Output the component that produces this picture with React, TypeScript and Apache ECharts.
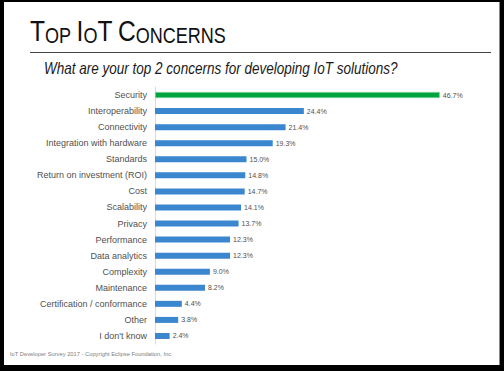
import React, { useEffect, useRef } from "react";
import * as echarts from "echarts";

const categories = [
  "Security",
  "Interoperability",
  "Connectivity",
  "Integration with hardware",
  "Standards",
  "Return on investment (ROI)",
  "Cost",
  "Scalability",
  "Privacy",
  "Performance",
  "Data analytics",
  "Complexity",
  "Maintenance",
  "Certification / conformance",
  "Other",
  "I don't know",
];
const values = [46.7, 24.4, 21.4, 19.3, 15.0, 14.8, 14.7, 14.1, 13.7, 12.3, 12.3, 9.0, 8.2, 4.4, 3.8, 2.4];
const highlight = "Security";

const FONT = "'Liberation Sans', Arial, sans-serif";

export default function App() {
  const ref = useRef<HTMLDivElement>(null);
  useEffect(() => {
    if (!ref.current) return;
    const chart = echarts.init(ref.current, null, { renderer: "svg" });
    chart.setOption({
      animation: false,
      backgroundColor: "#000",
      graphic: [
        { type: "rect", shape: { x: 4, y: 2, width: 495, height: 363 }, style: { fill: "#fff" }, z: -10 },
        { type: "line", shape: { x1: 499.5, y1: 2, x2: 499.5, y2: 365 }, style: { stroke: "#888", lineWidth: 1 } },
        {
          type: "text",
          x: 30,
          y: 16,
          scaleX: 0.82,
          style: {
            text: "{b|T}{s|OP}  {b|I}{s|O}{b|T}  {b|C}{s|ONCERNS}",
            rich: {
              b: { fontFamily: FONT, fontSize: 30, fill: "#111", verticalAlign: "bottom", lineHeight: 30 },
              s: { fontFamily: FONT, fontSize: 22, fill: "#111", verticalAlign: "bottom", lineHeight: 30 },
            },
          },
        },
        { type: "line", shape: { x1: 30, y1: 52.5, x2: 491, y2: 52.5 }, style: { stroke: "#444", lineWidth: 1 } },
        {
          type: "text",
          x: 44,
          y: 61,
          scaleX: 0.845,
          style: {
            text: "What are your top 2 concerns for developing IoT solutions?",
            fontFamily: FONT,
            fontStyle: "italic",
            fontSize: 16,
            fill: "#1a1a1a",
          },
        },
        {
          type: "text",
          x: 10,
          y: 351,
          scaleX: 0.96,
          style: {
            text: "IoT Developer Survey 2017 - Copyright Eclipse Foundation, Inc.",
            fontFamily: FONT,
            fontSize: 6,
            fill: "#808080",
          },
        },
      ],
      grid: { left: 155, top: 87, width: 305, height: 257, containLabel: false },
      xAxis: {
        type: "value",
        min: 0,
        max: 50,
        show: false,
      },
      yAxis: {
        type: "category",
        data: categories,
        inverse: true,
        axisLine: { show: true, lineStyle: { color: "#d9d9d9", width: 1 } },
        axisTick: { show: false },
        axisLabel: { color: "#505050", fontSize: 9, fontFamily: FONT, margin: 8 },
      },
      series: [
        {
          type: "bar",
          barWidth: 6,
          data: values.map((v, i) => ({
            value: v,
            itemStyle:
              categories[i] === highlight
                ? { color: "#00a33e", borderColor: "#8fe0b0", borderWidth: 0.6 }
                : { color: "#3a86cf" },
          })),
          label: {
            show: true,
            position: "right",
            distance: 3,
            formatter: (p: any) => Number(p.value).toFixed(1) + "%",
            fontSize: 7,
            fontFamily: FONT,
            color: "#505050",
          },
        },
      ],
    });
    return () => chart.dispose();
  }, []);
  return (
    <div
      ref={ref}
      style={{ position: "fixed", left: 0, top: 0, width: 504, height: 371 }}
    />
  );
}
